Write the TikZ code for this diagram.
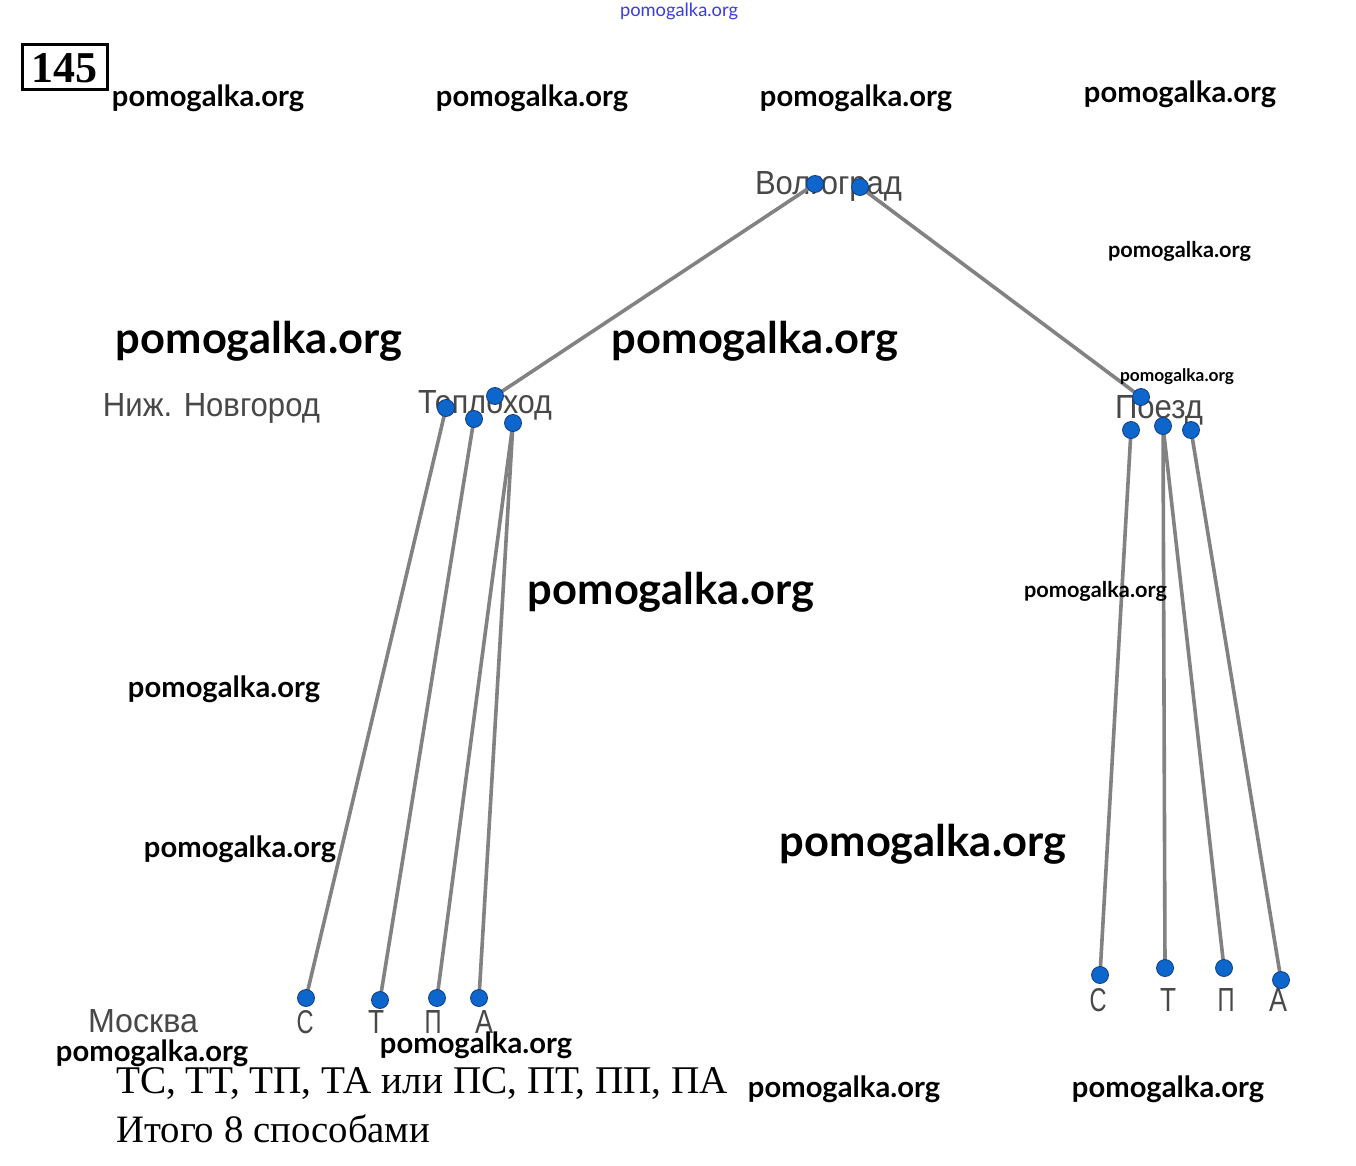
\documentclass[tikz,border=0pt]{standalone}
\usepackage{fontspec}
\usepackage{graphicx}
\setmainfont{Liberation Serif}
\setsansfont{Liberation Sans}
\newfontfamily\lato{Lato}
\definecolor{dotblue}{RGB}{12,102,204}
\definecolor{dotedge}{RGB}{20,60,130}
\definecolor{edgegray}{RGB}{130,130,130}
\definecolor{labgray}{RGB}{72,72,72}
\definecolor{wmblue}{RGB}{60,60,220}
\newcommand{\fitw}[2]{\resizebox{#1pt}{!}{#2}}
\newcommand{\fitwh}[3]{\resizebox{#1pt}{#2pt}{#3}}
\tikzset{
  dotnode/.style={circle,fill=dotblue,draw=dotedge,line width=0.8pt,inner sep=0pt,minimum size=17pt},
  edgeline/.style={draw=edgegray,line width=3.6pt},
  lab/.style={inner sep=0pt,text=labgray,font=\sffamily},
  letter/.style={inner sep=0pt,text=labgray,font=\sffamily\fontsize{30}{30}\selectfont},
  wm/.style={inner sep=0pt,text=black},
  answer/.style={inner sep=0pt,anchor=west,text=black}
}
\begin{document}
\begin{tikzpicture}[x=1pt,y=-1pt]
\useasboundingbox (0,0) rectangle (1356,1166);
\fill[white] (0,0) rectangle (1356,1166);
% problem number
\draw[line width=3pt] (22,45) rectangle (107,90);
\node[inner sep=0pt] (num) at (64.5,68) {\fitw{66}{\bfseries 145}};
% labels
\node[lab] (lvolg) at (828.5,186) {\fitwh{147}{23}{Волгоград}};
\node[lab] (lteplo) at (485,405) {\fitwh{134}{23}{Теплоход}};
\node[lab] (lpoezd) at (1159,410) {\fitwh{88}{23}{Поезд}};
\node[lab] (lnizh) at (211.5,408) {\fitwh{217}{23}{Ниж. Новгород}};
\node[lab] (lmosk) at (143,1021) {\fitwh{110}{23}{Москва}};
\node[letter] (ls1) at (305,1022) {\fitwh{17}{23}{С}};
\node[letter] (lt1) at (376,1022) {\fitwh{16}{23}{Т}};
\node[letter] (lp1) at (433,1022) {\fitwh{17}{23}{П}};
\node[letter] (la1) at (484,1022) {\fitwh{18}{23}{А}};
\node[letter] (ls2) at (1098,1000) {\fitwh{17}{23}{С}};
\node[letter] (lt2) at (1168,1000) {\fitwh{16}{23}{Т}};
\node[letter] (lp2) at (1226,1000) {\fitwh{17}{23}{П}};
\node[letter] (la2) at (1278,1000) {\fitwh{18}{23}{А}};
% positions
\coordinate (v1) at (815,184);
\coordinate (v2) at (860,187);
\coordinate (t0) at (495,396);
\coordinate (t1) at (446,408);
\coordinate (t2) at (474,419);
\coordinate (t3) at (513,423);
\coordinate (p0) at (1141,397);
\coordinate (p1) at (1131,430);
\coordinate (p2) at (1163,426);
\coordinate (p3) at (1191,430);
\coordinate (ms) at (306,998);
\coordinate (mt) at (380,1000);
\coordinate (mp) at (437,998);
\coordinate (ma) at (479,998);
\coordinate (rs) at (1100,975);
\coordinate (rt) at (1165,968);
\coordinate (rp) at (1224,968);
\coordinate (ra) at (1281,980);
% edges
\path[edgeline] (v1) -- (t0);
\path[edgeline] (v2) -- (p0);
\path[edgeline] (t1) -- (ms);
\path[edgeline] (t2) -- (mt);
\path[edgeline] (t3) -- (mp);
\path[edgeline] (t3) -- (ma);
\path[edgeline] (p1) -- (rs);
\path[edgeline] (p2) -- (rt);
\path[edgeline] (p2) -- (rp);
\path[edgeline] (p3) -- (ra);
% dots
\foreach \c in {v1,v2,t0,t1,t2,t3,p0,p1,p2,p3,ms,mt,mp,ma,rs,rt,rp,ra}
  \node[dotnode] (d\c) at (\c) {};
% answer text
\node[answer] (ans1) at (116,1084) {\fitw{612}{ТС, ТТ, ТП, ТА или ПС, ПТ, ПП, ПА}};
\node[answer] (ans2) at (116,1129) {\fitw{314}{Итого 8 способами}};
% watermarks
\node[inner sep=0pt,text=wmblue] (w0) at (679,11) {\fitw{118}{\lato pomogalka.org}};
\node[wm] (w1) at (208,98) {\fitw{192}{\lato\bfseries pomogalka.org}};
\node[wm] (w2) at (532,98) {\fitw{192}{\lato\bfseries pomogalka.org}};
\node[wm] (w3) at (856,98) {\fitw{192}{\lato\bfseries pomogalka.org}};
\node[wm] (w4) at (1180,94) {\fitw{192}{\lato\bfseries pomogalka.org}};
\node[wm] (w5) at (1179.5,251) {\fitw{143}{\lato\bfseries pomogalka.org}};
\node[wm] (w6) at (259,341) {\fitw{286}{\lato\bfseries pomogalka.org}};
\node[wm] (w7) at (755,341) {\fitw{286}{\lato\bfseries pomogalka.org}};
\node[wm] (w8) at (1177,377) {\fitw{114}{\lato\bfseries pomogalka.org}};
\node[wm] (w9) at (671,592) {\fitw{286}{\lato\bfseries pomogalka.org}};
\node[wm] (w10) at (1095.5,591) {\fitw{143}{\lato\bfseries pomogalka.org}};
\node[wm] (w11) at (224,689) {\fitw{192}{\lato\bfseries pomogalka.org}};
\node[wm] (w12) at (240,849) {\fitw{192}{\lato\bfseries pomogalka.org}};
\node[wm] (w13) at (923,844) {\fitw{286}{\lato\bfseries pomogalka.org}};
\node[wm] (w14) at (152,1053) {\fitw{192}{\lato\bfseries pomogalka.org}};
\node[wm] (w15) at (476,1045) {\fitw{192}{\lato\bfseries pomogalka.org}};
\node[wm] (w16) at (844,1089) {\fitw{192}{\lato\bfseries pomogalka.org}};
\node[wm] (w17) at (1168,1089) {\fitw{192}{\lato\bfseries pomogalka.org}};
\end{tikzpicture}
\end{document}
